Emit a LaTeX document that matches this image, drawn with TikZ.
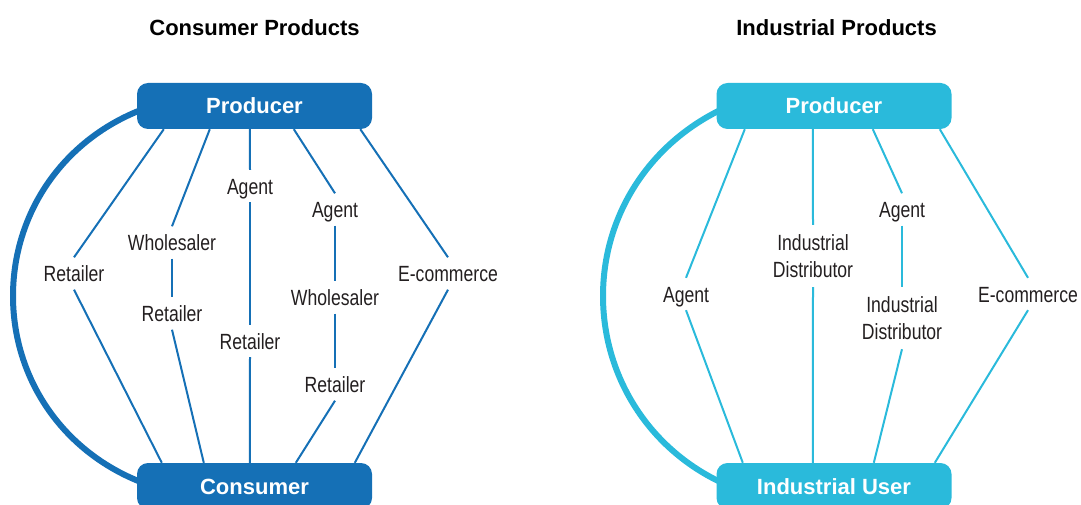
\documentclass[tikz,border=0pt]{standalone}
\usepackage{fontspec}
\setmainfont{Liberation Sans}
\newfontfamily\condfont[FakeStretch=0.8]{Liberation Sans}
\usetikzlibrary{backgrounds}
\definecolor{cblue}{HTML}{1570B6}
\definecolor{icyan}{HTML}{2ABADB}
\definecolor{ink}{HTML}{231F20}
\begin{document}
\begin{tikzpicture}[x=1pt,y=-1pt,
  title/.style={font=\fontsize{22}{26}\selectfont\bfseries, text=black, inner sep=0pt},
  box/.style={rounded corners=11pt, minimum width=235pt, minimum height=46pt, inner sep=0pt,
    text=white, text height=16pt, text depth=0pt, font=\fontsize{22}{26}\selectfont\bfseries},
  lab/.style={font=\condfont\fontsize{22}{27}\selectfont, text=ink, inner sep=0pt,
    text height=16pt, text depth=0pt, minimum height=32pt},
  labtwo/.style={font=\condfont\fontsize{22}{27}\selectfont, text=ink, inner sep=0pt,
    align=center, minimum height=62pt},
  thinline/.style={line width=2pt},
  arcline/.style={line width=6pt}]

\useasboundingbox (0,0) rectangle (1081,505);

% titles
\node[title] (t1) at (254.5,28) {Consumer Products};
\node[title] (t2) at (836.5,28) {Industrial Products};

% ---------- Consumer products ----------
\node[box, fill=cblue] (LP) at (254.5,106) {Producer};
\node[box, fill=cblue] (LC) at (254.5,486) {Consumer};

\node[lab] (r1) at (74,273.5) {Retailer};
\node[lab] (w2) at (172,242.5) {Wholesaler};
\node[lab] (r2) at (172,313.5) {Retailer};
\node[lab] (a3) at (250,186) {Agent};
\node[lab] (r3) at (250,341) {Retailer};
\node[lab] (a4) at (335,209.5) {Agent};
\node[lab] (w4) at (335,297.5) {Wholesaler};
\node[lab] (r4) at (335,384.5) {Retailer};
\node[lab] (e5) at (448,273.5) {E-commerce};

\begin{scope}[thinline, draw=cblue]
\draw ([xshift=27pt]LP.south west) -- (r1.north);
\draw (r1.south) -- ([xshift=25pt]LC.north west);
\draw ([xshift=73pt]LP.south west) -- (w2.north);
\draw (w2.south) -- (r2.north);
\draw (r2.south) -- ([xshift=67pt]LC.north west);
\draw ([xshift=113pt]LP.south west) -- (a3.north);
\draw (a3.south) -- (r3.north);
\draw (r3.south) -- ([xshift=113pt]LC.north west);
\draw ([xshift=157pt]LP.south west) -- (a4.north);
\draw (a4.south) -- (w4.north);
\draw (w4.south) -- (r4.north);
\draw (r4.south) -- ([xshift=159pt]LC.north west);
\draw ([xshift=223.5pt]LP.south west) -- (e5.north);
\draw (e5.south) -- ([xshift=218pt]LC.north west);
\end{scope}

\begin{scope}[on background layer]
\draw[arcline, cblue] ([xshift=4pt,yshift=-4pt]LP.west)
  .. controls (62,141) and (13,214) .. (13,296)
  .. controls (13,378) and (62,451) .. ([xshift=4pt,yshift=4pt]LC.west);
\end{scope}

% ---------- Industrial products ----------
\node[box, fill=icyan] (RP) at (834,106) {Producer};
\node[box, fill=icyan] (RU) at (834,486) {Industrial User};

\node[lab] (ra1) at (686,294) {Agent};
\node[labtwo] (id2) at (813,256) {Industrial\\Distributor};
\node[lab] (ra3) at (902,209.5) {Agent};
\node[labtwo] (id3) at (902,318) {Industrial\\Distributor};
\node[lab] (re4) at (1028,294) {E-commerce};

\begin{scope}[thinline, draw=icyan]
\draw ([xshift=28.5pt]RP.south west) -- (ra1.north);
\draw (ra1.south) -- ([xshift=26.5pt]RU.north west);
\draw ([xshift=96.5pt]RP.south west) -- (id2.north);
\draw (id2.south) -- ([xshift=96.5pt]RU.north west);
\draw ([xshift=156.5pt]RP.south west) -- (ra3.north);
\draw (ra3.south) -- (id3.north);
\draw (id3.south) -- ([xshift=157.5pt]RU.north west);
\draw ([xshift=223.5pt]RP.south west) -- (re4.north);
\draw (re4.south) -- ([xshift=218.5pt]RU.north west);
\end{scope}

\begin{scope}[on background layer]
\draw[arcline, icyan] ([xshift=4pt,yshift=-4pt]RP.west)
  .. controls (647,146) and (603,217.5) .. (603,296)
  .. controls (603,374.5) and (647,447) .. ([xshift=4pt,yshift=4pt]RU.west);
\end{scope}

\end{tikzpicture}
\end{document}
